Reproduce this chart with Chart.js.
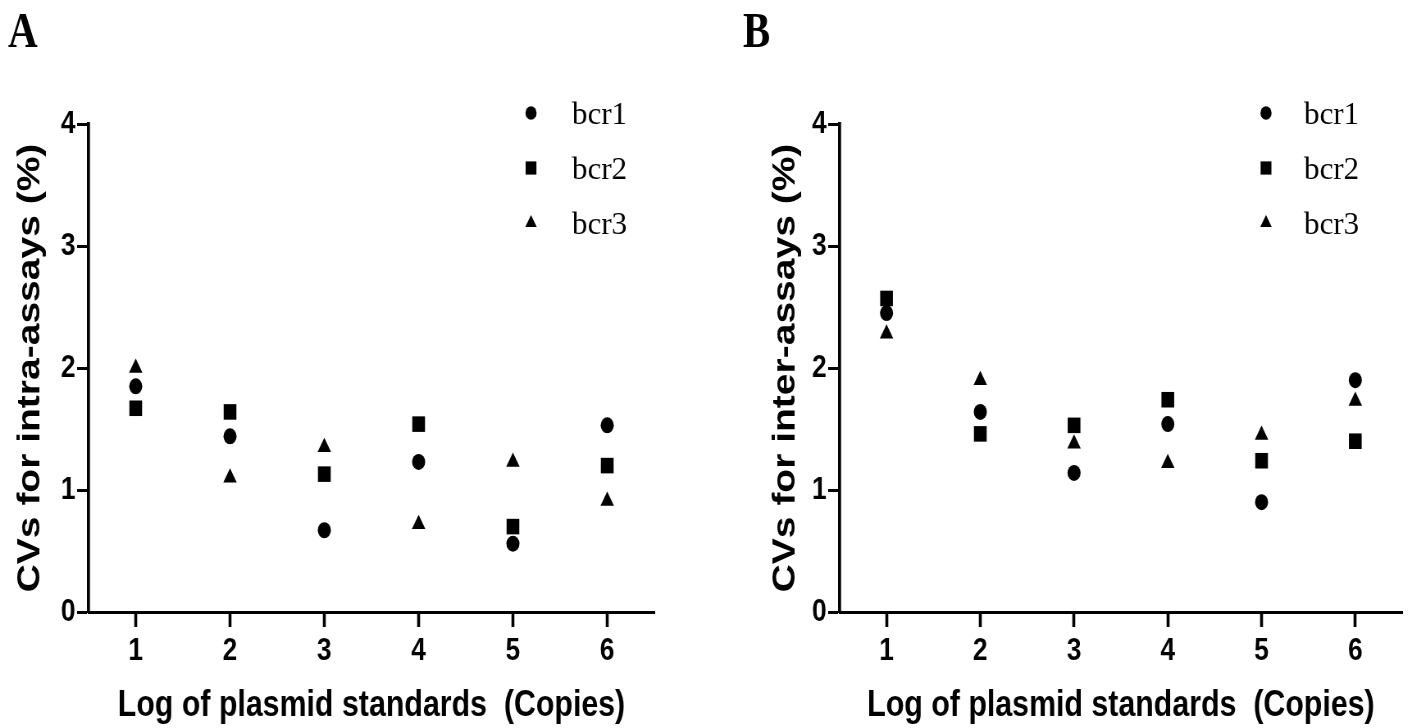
<!DOCTYPE html>
<html>
<head>
<meta charset="utf-8">
<script src="https://cdn.jsdelivr.net/npm/chart.js@4.4.0/dist/chart.umd.min.js"></script>
<style>
body{margin:0;background:#fff;width:1411px;height:728px;overflow:hidden;position:relative}
.panel{position:absolute;top:0;width:860px;height:728px;transform:scaleX(0.82);transform-origin:0 0}
</style>
</head>
<body>
<div class="panel" style="left:0"><canvas id="chartA" width="860" height="728"></canvas></div>
<div class="panel" style="left:706px"><canvas id="chartB" width="860" height="728"></canvas></div>
<script>
// the source figure is horizontally squeezed, so each panel is drawn wider and scaled back
const squeeze=0.82

const xValues=[1,2,3,4,5,6]
const xTicks=[1,2,3,4,5,6]
const yTicks=[0,1,2,3,4]
const seriesNames=["bcr1","bcr2","bcr3"]

// A: intra-assay CVs (%)
const intraBcr1=[1.85,1.44,0.67,1.23,0.56,1.53]
const intraBcr2=[1.67,1.64,1.13,1.54,0.70,1.20]
const intraBcr3=[2.00,1.10,1.35,0.72,1.23,0.91]

// B: inter-assay CVs (%)
const interBcr1=[2.45,1.64,1.14,1.54,0.90,1.90]
const interBcr2=[2.57,1.46,1.53,1.74,1.24,1.40]
const interBcr3=[2.28,1.90,1.38,1.22,1.45,1.73]

const pointStyles=['circle','rect','triangle']
const pointRadii=[8,11,9.5]
const legendRowsY=[113,168,223]

const sansBold={family:'"Liberation Sans", Arial, sans-serif',weight:'bold'}

function drawMarker(ctx,style,x,y,r){
  ctx.beginPath()
  if(style==='circle'){
    ctx.arc(x,y,r,0,Math.PI*2)
  }else if(style==='rect'){
    const s=r*Math.SQRT1_2
    ctx.rect(x-s,y-s,2*s,2*s)
  }else{
    ctx.moveTo(x,y-r)
    ctx.lineTo(x+r*0.866,y+r*0.5)
    ctx.lineTo(x-r*0.866,y+r*0.5)
    ctx.closePath()
  }
  ctx.fill()
}

const panelDecor={
  id:'panelDecor',
  afterDraw(chart,args,opts){
    const ctx=chart.ctx
    ctx.save()
    ctx.fillStyle='#000'
    ctx.textBaseline='alphabetic'
    ctx.textAlign='left'
    ctx.font='bold 50px "Liberation Serif", "Times New Roman", serif'
    ctx.fillText(opts.letter,opts.letterX/squeeze,47)
    chart.data.datasets.forEach((ds,i)=>{
      const y=legendRowsY[i]
      drawMarker(ctx,ds.pointStyle,opts.markerX/squeeze,y,ds.pointRadius*0.85)
      ctx.save()
      ctx.translate(opts.textX/squeeze,y+11)
      ctx.scale(1/squeeze,1)
      ctx.font='31px "Liberation Serif", "Times New Roman", serif'
      ctx.fillText(ds.label,0,0)
      ctx.restore()
    })
    ctx.restore()
  }
}

function makeChart(id,yTitle,series,layout){
  const datasets=series.map((vals,i)=>({
    label:seriesNames[i],
    data:xValues.map((x,j)=>({x:x,y:vals[j]})),
    pointStyle:pointStyles[i],
    pointRadius:pointRadii[i],
    pointHoverRadius:pointRadii[i],
    backgroundColor:'#000',
    borderColor:'#000',
    borderWidth:0
  }))
  return new Chart(document.getElementById(id),{
    type:'scatter',
    data:{datasets},
    plugins:[panelDecor],
    options:{
      responsive:false,
      animation:false,
      devicePixelRatio:1,
      layout:{padding:{left:layout.padLeft,top:124,right:layout.padRight,bottom:0}},
      plugins:{
        legend:{display:false},
        tooltip:{enabled:false},
        panelDecor:layout.decor
      },
      scales:{
        x:{
          type:'linear',
          min:0.5,
          max:6.5,
          afterFit:s=>{s.height=116},
          afterBuildTicks:s=>{s.ticks=xTicks.map(v=>({value:v}))},
          ticks:{color:'#000',font:{...sansBold,size:32},padding:5,maxRotation:0,autoSkip:false},
          grid:{drawOnChartArea:false,drawTicks:true,tickLength:15,tickWidth:3.6,tickColor:'#000'},
          border:{display:true,color:'#000',width:3},
          title:{display:true,text:'Log of plasmid standards  (Copies)',color:'#000',
            font:{...sansBold,size:37,lineHeight:1},padding:{top:0,bottom:4}}
        },
        y:{
          type:'linear',
          min:0,
          max:4,
          afterFit:s=>{s.width=layout.yWidth},
          afterBuildTicks:s=>{s.ticks=yTicks.map(v=>({value:v}))},
          ticks:{color:'#000',font:{...sansBold,size:32},padding:2},
          grid:{drawOnChartArea:false,drawTicks:true,tickLength:14,tickWidth:3,tickColor:'#000'},
          border:{display:true,color:'#000',width:3.7},
          title:{display:true,text:yTitle,color:'#000',
            font:{...sansBold,size:39,lineHeight:1},padding:{top:18,bottom:0}}
        }
      }
    }
  })
}

makeChart('chartA','CVs for intra-assays (%)',[intraBcr1,intraBcr2,intraBcr3],{
  padLeft:0,padRight:62,yWidth:108,
  decor:{letter:'A',letterX:8,markerX:531,textX:572}
})
makeChart('chartB','CVs for inter-assays (%)',[interBcr1,interBcr2,interBcr3],{
  padLeft:60,padRight:6,yWidth:103,
  decor:{letter:'B',letterX:37,markerX:560,textX:598}
})
</script>
</body>
</html>
